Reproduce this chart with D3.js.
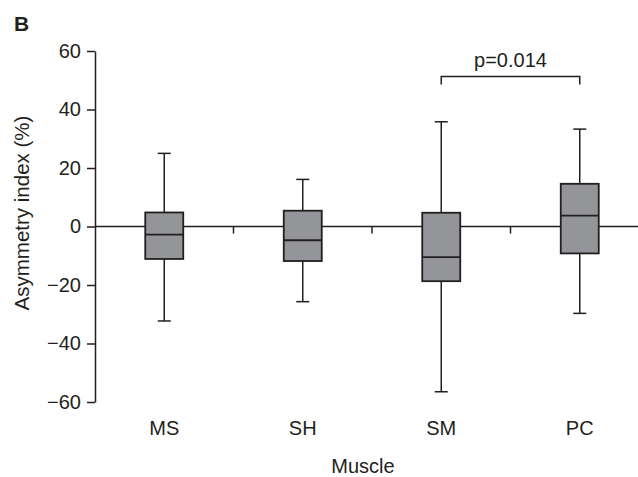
<!DOCTYPE html>
<html>
<head>
<meta charset="utf-8">
<script src="https://cdn.jsdelivr.net/npm/d3@7"></script>
<style>
  body { margin: 0; background: #fff; }
  text { font-family: "Liberation Sans", Arial, Helvetica, sans-serif; fill: #231f20; }
</style>
</head>
<body>
<div id="chart"></div>
<script>
// data
const muscles = ["MS", "SH", "SM", "PC"];
const whiskerMax = [25.0, 16.1, 35.8, 33.3];
const q3 = [4.8, 5.4, 4.7, 14.6];
const medians = [-2.8, -4.7, -10.5, 3.7];
const q1 = [-11.1, -11.8, -18.7, -9.2];
const whiskerMin = [-32.3, -25.7, -56.5, -29.7];
const yTicks = [-60, -40, -20, 0, 20, 40, 60];
const pLabel = "p=0.014";
const pPair = ["SM", "PC"];

const data = muscles.map((m, i) => ({
    muscle: m, max: whiskerMax[i], q3: q3[i], med: medians[i], q1: q1[i], min: whiskerMin[i]
}));

const W = 638, H = 477;
const margin = {top: 51, left: 95};
const ink = "#231f20";
const fs = "20px";

const svg = d3.select("#chart")
    .append("svg")
    .attr("width", W)
    .attr("height", H);

// scales
const x = d3.scaleBand()
    .domain(muscles)
    .range([margin.left, margin.left + 4 * 138.5]);

const y = d3.scaleLinear()
    .domain([-60, 60])
    .range([402, 51]);

// y axis
const yAxis = svg.append("g")
    .attr("transform", `translate(${margin.left},0)`)
    .call(d3.axisLeft(y).tickValues(yTicks).tickSize(8).tickPadding(6)
        .tickFormat(d => d < 0 ? "\u2212" + Math.abs(d) : d)
        .tickSizeOuter(0));
yAxis.select(".domain").attr("stroke", ink).attr("stroke-width", 1.5);
yAxis.selectAll(".tick line").attr("stroke", ink).attr("stroke-width", 1.5);
yAxis.selectAll(".tick text")
    .style("font-size", fs)
    .style("font-family", "Liberation Sans, Arial, sans-serif")
    .attr("fill", ink);

// zero line across plot, with category separator ticks
const xAxis = svg.append("g")
    .attr("transform", `translate(0,${y(0)})`);
xAxis.append("line")
    .attr("x1", margin.left)
    .attr("x2", W)
    .attr("stroke", ink)
    .attr("stroke-width", 1.5);
xAxis.selectAll(".sep")
    .data(muscles.slice(1))
    .join("line")
    .attr("class", "sep")
    .attr("x1", d => x(d))
    .attr("x2", d => x(d))
    .attr("y1", 0)
    .attr("y2", 7)
    .attr("stroke", ink)
    .attr("stroke-width", 1.5);

// category labels
svg.selectAll(".cat")
    .data(muscles)
    .join("text")
    .attr("class", "cat")
    .attr("x", d => x(d) + x.bandwidth() / 2)
    .attr("y", 435)
    .attr("text-anchor", "middle")
    .style("font-size", fs)
    .text(d => d);

// boxes
const boxW = 38, capW = 13;
const box = svg.append("g").selectAll("g")
    .data(data)
    .join("g")
    .attr("transform", d => `translate(${x(d.muscle) + x.bandwidth() / 2},0)`);

box.append("line")
    .attr("y1", d => y(d.max))
    .attr("y2", d => y(d.min))
    .attr("stroke", ink)
    .attr("stroke-width", 1.5);

box.append("line")
    .attr("x1", -capW / 2).attr("x2", capW / 2)
    .attr("y1", d => y(d.max)).attr("y2", d => y(d.max))
    .attr("stroke", ink).attr("stroke-width", 1.5);

box.append("line")
    .attr("x1", -capW / 2).attr("x2", capW / 2)
    .attr("y1", d => y(d.min)).attr("y2", d => y(d.min))
    .attr("stroke", ink).attr("stroke-width", 1.5);

box.append("rect")
    .attr("x", -boxW / 2)
    .attr("width", boxW)
    .attr("y", d => y(d.q3))
    .attr("height", d => y(d.q1) - y(d.q3))
    .attr("fill", "#939598")
    .attr("stroke", ink)
    .attr("stroke-width", 1.8);

box.append("line")
    .attr("x1", -boxW / 2).attr("x2", boxW / 2)
    .attr("y1", d => y(d.med)).attr("y2", d => y(d.med))
    .attr("stroke", ink).attr("stroke-width", 1.8);

// significance bracket
const bx1 = x(pPair[0]) + x.bandwidth() / 2,
      bx2 = x(pPair[1]) + x.bandwidth() / 2;
svg.append("path")
    .attr("d", `M${bx1},84.5V76.5H${bx2}V84.5`)
    .attr("fill", "none")
    .attr("stroke", ink)
    .attr("stroke-width", 1.5);
svg.append("text")
    .attr("x", (bx1 + bx2) / 2)
    .attr("y", 67)
    .attr("text-anchor", "middle")
    .style("font-size", fs)
    .text(pLabel);

// axis titles
svg.append("text")
    .attr("transform", `translate(29,213) rotate(-90)`)
    .attr("text-anchor", "middle")
    .style("font-size", "20.5px")
    .text("Asymmetry index (%)");

svg.append("text")
    .attr("x", 363)
    .attr("y", 473)
    .attr("text-anchor", "middle")
    .style("font-size", fs)
    .text("Muscle");

// panel letter
svg.append("text")
    .attr("x", 14)
    .attr("y", 31)
    .style("font-size", "21px")
    .style("font-weight", "bold")
    .text("B");
</script>
</body>
</html>
